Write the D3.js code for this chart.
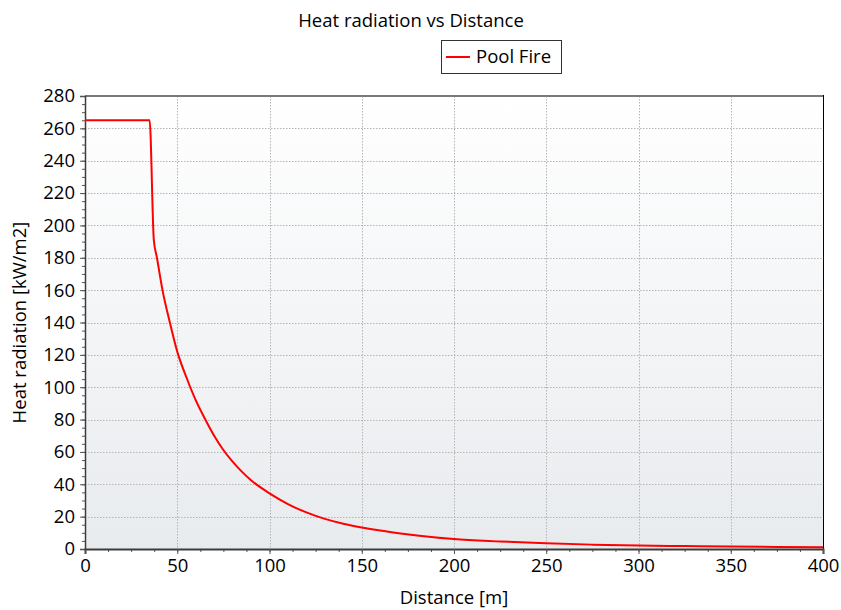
<!DOCTYPE html>
<html>
<head>
<meta charset="utf-8">
<script src="https://cdn.jsdelivr.net/npm/d3@7"></script>
<style>
  body { margin: 0; background: #ffffff; }
  svg { display: block; font-family: "Open Sans", "Noto Sans", sans-serif; }
</style>
</head>
<body>
<svg id="chart" width="841" height="610"></svg>
<script>
const chartTitle = "Heat radiation vs Distance";
const seriesName = "Pool Fire";
const xLabel = "Distance [m]";
const yLabel = "Heat radiation [kW/m2]";
const xTicks = [0, 50, 100, 150, 200, 250, 300, 350, 400];
const yTicks = [0, 20, 40, 60, 80, 100, 120, 140, 160, 180, 200, 220, 240, 260, 280];
const distance = [0, 35, 37.3, 39, 42, 46, 50, 55, 60, 65, 70, 75, 80, 85, 90, 100, 110, 120, 130, 140, 150, 160, 170, 180, 200, 225, 250, 275, 300, 325, 350, 375, 400];
const radiation = [265, 265, 191, 180, 160, 140, 122, 106, 92, 80.5, 70, 61.2, 54, 47.8, 42.5, 34.4, 27.8, 22.6, 18.6, 15.6, 13.3, 11.4, 9.8, 8.4, 6.2, 4.7, 3.5, 2.7, 2.1, 1.8, 1.5, 1.3, 1.1];

const FS = 18.5;
const svg = d3.select("#chart");
const m = { left: 85, right: 823, top: 96, bottom: 549 };
const x = d3.scaleLinear().domain([0, 400]).range([m.left, m.right]);
const y = d3.scaleLinear().domain([0, 280]).range([m.bottom, m.top]);

const defs = svg.append("defs");
const grad = defs.append("linearGradient").attr("id", "bg").attr("x1", 0).attr("y1", 0).attr("x2", 0).attr("y2", 1);
grad.append("stop").attr("offset", "0%").attr("stop-color", "#ffffff");
grad.append("stop").attr("offset", "100%").attr("stop-color", "#e8ebee");

svg.append("rect").attr("x", m.left).attr("y", m.top)
  .attr("width", m.right - m.left).attr("height", m.bottom - m.top)
  .attr("fill", "url(#bg)");

// gridlines
const grid = svg.append("g").attr("stroke", "#b4b4b4").attr("stroke-width", 1).attr("stroke-dasharray", "1.5,1.5");
grid.selectAll("line.v").data(xTicks.slice(1, -1)).join("line")
  .attr("x1", d => Math.round(x(d)) + 0.5).attr("x2", d => Math.round(x(d)) + 0.5)
  .attr("y1", m.top).attr("y2", m.bottom);
grid.selectAll("line.h").data(yTicks.slice(1, -1)).join("line")
  .attr("y1", d => Math.round(y(d)) + 0.5).attr("y2", d => Math.round(y(d)) + 0.5)
  .attr("x1", m.left).attr("x2", m.right);

// borders
svg.append("line").attr("x1", m.left).attr("x2", m.right).attr("y1", m.top).attr("y2", m.top)
  .attr("stroke", "#7a7a7a").attr("stroke-width", 2);
svg.append("line").attr("x1", m.right + 0.5).attr("x2", m.right + 0.5).attr("y1", m.top - 1).attr("y2", m.bottom)
  .attr("stroke", "#000").attr("stroke-width", 1);

// axes
const xMinor = d3.range(0, 400.01, 12.5);
const yMinor = d3.range(0, 280.01, 5);
const xAxis = svg.append("g").attr("transform", `translate(0,${m.bottom})`);
xAxis.call(d3.axisBottom(x).tickValues(xMinor).tickSize(3).tickFormat(""))
  .call(g => g.select(".domain").remove())
  .call(g => g.selectAll("line").attr("stroke", "#555"));
xAxis.append("g").call(d3.axisBottom(x).tickValues(xTicks).tickSize(5).tickPadding(5).tickFormat(d3.format("d")))
  .call(g => g.select(".domain").attr("stroke", "#3c3c3c").attr("stroke-width", 2))
  .call(g => g.selectAll("line").attr("stroke", "#555"))
  .call(g => g.selectAll("text").attr("font-size", FS).attr("fill", "#000").attr("font-family", "Open Sans, Noto Sans, sans-serif"));

const yAxis = svg.append("g").attr("transform", `translate(${m.left},0)`);
yAxis.call(d3.axisLeft(y).tickValues(yMinor).tickSize(3).tickFormat(""))
  .call(g => g.select(".domain").remove())
  .call(g => g.selectAll("line").attr("stroke", "#555"));
yAxis.append("g").call(d3.axisLeft(y).tickValues(yTicks).tickSize(5).tickPadding(5).tickFormat(d3.format("d")))
  .call(g => g.select(".domain").attr("stroke", "#3c3c3c").attr("stroke-width", 1.5))
  .call(g => g.selectAll("line").attr("stroke", "#555"))
  .call(g => g.selectAll("text").attr("font-size", FS).attr("fill", "#000").attr("font-family", "Open Sans, Noto Sans, sans-serif"));

// line
const pts = distance.map((d, i) => [d, radiation[i]]);
svg.append("path").datum(pts)
  .attr("fill", "none").attr("stroke", "#ff0000").attr("stroke-width", 2)
  .attr("stroke-linejoin", "round")
  .attr("d", d3.line().x(d => x(d[0])).y(d => y(d[1])).curve(d3.curveMonotoneX));

// title
svg.append("text").attr("x", 411).attr("y", 27).attr("text-anchor", "middle")
  .attr("font-size", FS).attr("fill", "#000").text(chartTitle);

// legend
const lg = svg.append("g");
lg.append("rect").attr("x", 441.5).attr("y", 40.5).attr("width", 120).attr("height", 33)
  .attr("fill", "#fff").attr("stroke", "#333").attr("stroke-width", 1);
lg.append("line").attr("x1", 446).attr("x2", 470).attr("y1", 57).attr("y2", 57)
  .attr("stroke", "#ff0000").attr("stroke-width", 2);
lg.append("text").attr("x", 476).attr("y", 63).attr("font-size", FS).attr("fill", "#000").text(seriesName);

// axis titles
svg.append("text").attr("x", 454).attr("y", 604).attr("text-anchor", "middle")
  .attr("font-size", FS).attr("fill", "#000").text(xLabel);
svg.append("text").attr("transform", `translate(26,${(m.top + m.bottom) / 2}) rotate(-90)`)
  .attr("text-anchor", "middle").attr("font-size", FS).attr("fill", "#000").text(yLabel);
</script>
</body>
</html>
